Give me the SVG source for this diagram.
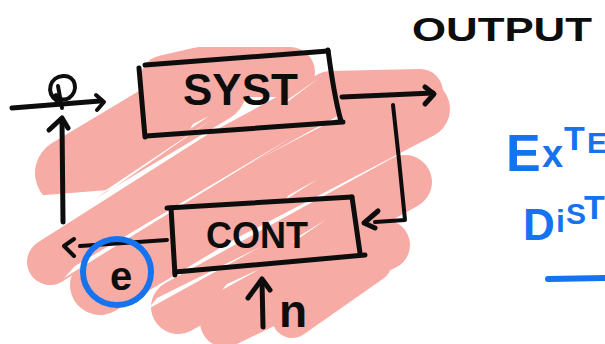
<svg xmlns="http://www.w3.org/2000/svg" width="605" height="344" viewBox="0 0 605 344">
  <style>
    .ink { fill: none; stroke: #0d0d0d; stroke-width: 5; stroke-linecap: round; stroke-linejoin: round; }
    .thin { stroke-width: 4; }
    .blue { fill: none; stroke: #1673f0; stroke-width: 6; stroke-linecap: round; }
    .hl { fill: none; stroke: #f6aba5; stroke-linecap: round; stroke-linejoin: round; }
    .gap { fill: #ffffff; }
    .lbl { font-family: "Liberation Sans", Arial, sans-serif; font-weight: bold; fill: #0d0d0d; }
    .blt { font-family: "Liberation Sans", Arial, sans-serif; font-weight: bold; fill: #1673f0; }
  </style>
  <rect width="605" height="344" fill="#ffffff"/>

  <!-- marker highlight behind the loop -->
  <g id="highlight">
    <path class="hl" stroke-width="70" d="M70,173 L212,88"/>
    <path class="hl" stroke-width="50" d="M165,80 L200,72 L290,72"/>
    <path class="hl" stroke-width="46" d="M50,262 L220,154 L330,94 L420,92"/>
    <path class="hl" stroke-width="60" d="M100,285 L220,213 L420,109"/>
    <path class="hl" stroke-width="54" d="M178,307 L405,182"/>
    <path class="hl" stroke-width="50" d="M225,322 L385,245"/>
    <path class="hl" stroke-width="40" d="M292,318 L372,262"/>
    <!-- unpainted wedge and thin streaks between marker passes -->
    <polygon class="gap" points="20,197 108,190 20,252"/>
    <polygon class="gap" points="100,194 112,189 214,118"/>
    <polygon class="gap" points="64,278 75,266 294,136"/>
    <polygon class="gap" points="148,309 157,298 262,246"/>
    <polygon class="gap" points="190,129 193,124 209,116"/>
    <polygon class="gap" points="282,106 286,101 319,78"/>
    <polygon class="gap" points="285,200 289,195 318,179"/>
    <polygon class="gap" points="292,243 296,238 327,219"/>
    <polygon class="gap" points="222,290 227,284 260,269"/>
  </g>

  <!-- connectors -->
  <g id="connectors">
    <!-- input into the summing point -->
    <path class="ink" d="M12,108 L100,101"/>
    <path class="ink thin" d="M96,95 L104,102 L97,110"/>
    <!-- system output -->
    <path class="ink" d="M342,97 L433,93"/>
    <path class="ink" d="M425,87 L434,94 L425,104"/>
    <!-- output fed back to the controller -->
    <path class="ink thin" d="M393,105 L399,160 L405,220 L375,222"/>
    <path class="ink" d="M378,211 L364,223 L375,228"/>
    <!-- controller output to the summing point -->
    <path class="ink thin" d="M167,240 L80,246"/>
    <path class="ink thin" d="M74,239 L64,246 L74,256"/>
    <path class="ink" d="M63,222 L62,120"/>
    <path class="ink" d="M49,130 L62,118 L68,128"/>
    <!-- noise input -->
    <path class="ink" d="M263,327 L262,281"/>
    <path class="ink" d="M248,298 L262,279 L270,290"/>
  </g>

  <!-- summing point -->
  <g id="sum">
    <path class="ink thin" d="M57,101 C45,92 50,77 63,76 C76,75 79,91 69,98 C64,101 58,99 56,95"/>
    <path class="ink thin" d="M58,86 L62,108"/>
  </g>

  <!-- plant -->
  <g id="syst">
    <path class="ink" d="M145,65 L328,51"/>
    <path class="ink" d="M328,50 C332,80 335,100 341,121"/>
    <path class="ink" d="M146,136 L343,122"/>
    <path class="ink" d="M139,68 L145,137"/>
    <text class="lbl" x="183" y="105" font-size="44">SYST</text>
  </g>

  <!-- controller -->
  <g id="cont">
    <path class="ink" d="M167,208 L352,197"/>
    <path class="ink" d="M352,197 L360,253"/>
    <path class="ink" d="M175,272 L365,255"/>
    <path class="ink" d="M171,208 L175,275"/>
    <text class="lbl" x="206" y="248" font-size="36">CONT</text>
  </g>

  <!-- error signal -->
  <g id="error">
    <ellipse class="blue" cx="117" cy="272" rx="34" ry="33"/>
    <text class="lbl" x="121" y="290" font-size="40" text-anchor="middle">e</text>
  </g>

  <!-- free labels -->
  <g id="labels">
    <text class="lbl" x="279" y="327" font-size="46">n</text>
    <text class="lbl" x="412" y="41" font-size="34" textLength="180" lengthAdjust="spacingAndGlyphs">OUTPUT</text>
    <text class="blt"><tspan x="506" y="171" font-size="52">E</tspan><tspan x="542" y="167" font-size="38">x</tspan><tspan x="564" y="150" font-size="34">T</tspan><tspan x="587" y="153" font-size="30">E</tspan></text>
    <text class="blt"><tspan x="523" y="240" font-size="44">D</tspan><tspan x="556" y="232" font-size="32">i</tspan><tspan x="566" y="224" font-size="30">S</tspan><tspan x="584" y="219" font-size="34">T</tspan></text>
    <path class="blue" d="M548,279 L605,278" stroke-width="5"/>
  </g>
</svg>
